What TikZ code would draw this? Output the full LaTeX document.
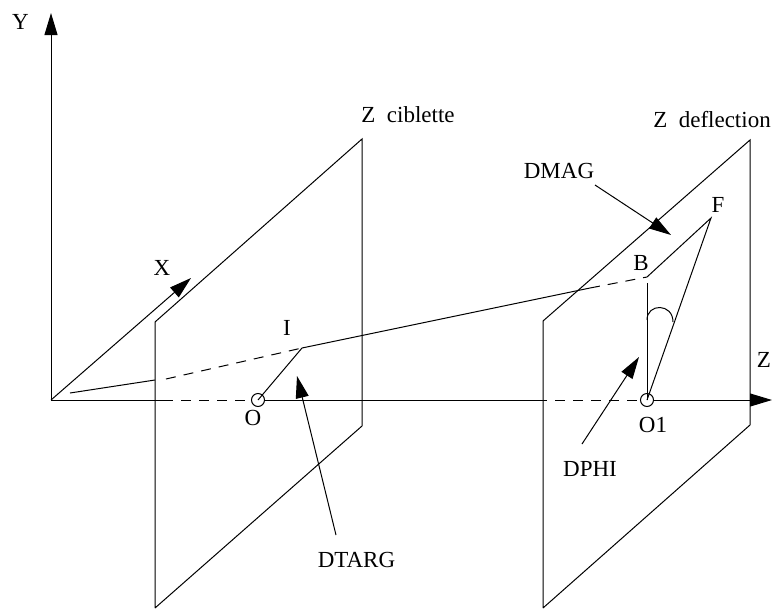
\documentclass[tikz,border=0pt]{standalone}
\usepackage{fontspec}
\setmainfont{Liberation Serif}
\usetikzlibrary{arrows.meta}
\tikzset{
  lbl/.style={inner sep=0pt, font=\fontsize{23}{23}\selectfont},
  ring/.style={circle, draw, minimum size=13pt, inner sep=0pt},
  tip/.style={-{Triangle[length=22pt,width=13pt]}},
  dashln/.style={dash pattern=on 10pt off 8pt}
}
\begin{document}
\begin{tikzpicture}[x=1pt,y=-1pt,line width=1pt]
  \useasboundingbox (0,0) rectangle (772,611);
  % axes
  \coordinate (orig) at (51,400);
  \coordinate (ytip) at (51,13);
  \coordinate (xtip) at (191,278);
  \coordinate (ztip) at (772,400);
  \node[ring] (o) at (258,400){};
  \node[ring] (o1) at (647,400){};
  % planes
  \coordinate (pa1) at (155,322);
  \coordinate (pa2) at (362,139);
  \coordinate (pa3) at (362,426);
  \coordinate (pa4) at (155,608);
  \coordinate (pb1) at (543,321);
  \coordinate (pb2) at (750,140);
  \coordinate (pb3) at (750,425);
  \coordinate (pb4) at (543,608);
  \draw (pa4) -- (pa1) -- (pa2) -- (pa3) -- (pa4);
  \draw (pb4) -- (pb1) -- (pb2) -- (pb3) -- (pb4);
  \draw[tip] (orig) -- (ytip);
  \draw[tip] (orig) -- (xtip);
  % z axis
  \coordinate (za) at (163,400);
  \coordinate (zb) at (537,400);
  \draw (orig) -- (za);
  \draw[dashln] (za) -- (o);
  \draw (o) -- (zb);
  \draw[dashln] (zb) -- (o1);
  \draw[tip] (o1) -- (ztip);
  % ray
  \coordinate (ra) at (70,393);
  \coordinate (rb) at (155,380);
  \coordinate (rc) at (166,379);
  \coordinate (i) at (302,348);
  \coordinate (rd) at (590,288);
  \coordinate (b) at (647,277);
  \coordinate (f) at (711,218);
  \coordinate (vt) at (647,283);
  \coordinate (aa) at (647,320);
  \coordinate (ab) at (673,322);
  \draw (ra) -- (rb);
  \draw[dashln] (rc) -- (i);
  \draw (i) -- (rd);
  \draw[dashln] (rd) -- (b);
  \draw (i) -- (o.center);
  \draw (b) -- (f) -- (o1.center);
  \draw (vt) -- (o1.center);
  \draw (aa) .. controls (647,303) and (673,303) .. (ab);
  % pointers
  \coordinate (dmagt) at (671,235);
  \coordinate (dphit) at (639,357);
  \coordinate (dtargt) at (297,376);
  \coordinate (dmags) at (595,185);
  \coordinate (dphis) at (582,444);
  \coordinate (dtargs) at (336,535);
  \node[lbl] (dmag) at (559,171) {DMAG};
  \node[lbl] (dphi) at (590,469) {DPHI};
  \node[lbl] (dtarg) at (356.5,560) {DTARG};
  \draw[tip] (dmags) -- (dmagt);
  \draw[tip] (dphis) -- (dphit);
  \draw[tip] (dtargs) -- (dtargt);
  % labels
  \node[lbl] (ly) at (20.5,22) {Y};
  \node[lbl] (lx) at (162,268) {X};
  \node[lbl] (lzc) at (408,115) {Z\ \ ciblette};
  \node[lbl] (lzd) at (712,120) {Z\ \ deflection};
  \node[lbl] (lf) at (718,205) {F};
  \node[lbl] (lb) at (641,263) {B};
  \node[lbl] (li) at (287,328) {I};
  \node[lbl] (lo) at (253,418) {O};
  \node[lbl] (lo1) at (653,425) {O1};
  \node[lbl] (lz) at (764,360) {Z};
\end{tikzpicture}
\end{document}
